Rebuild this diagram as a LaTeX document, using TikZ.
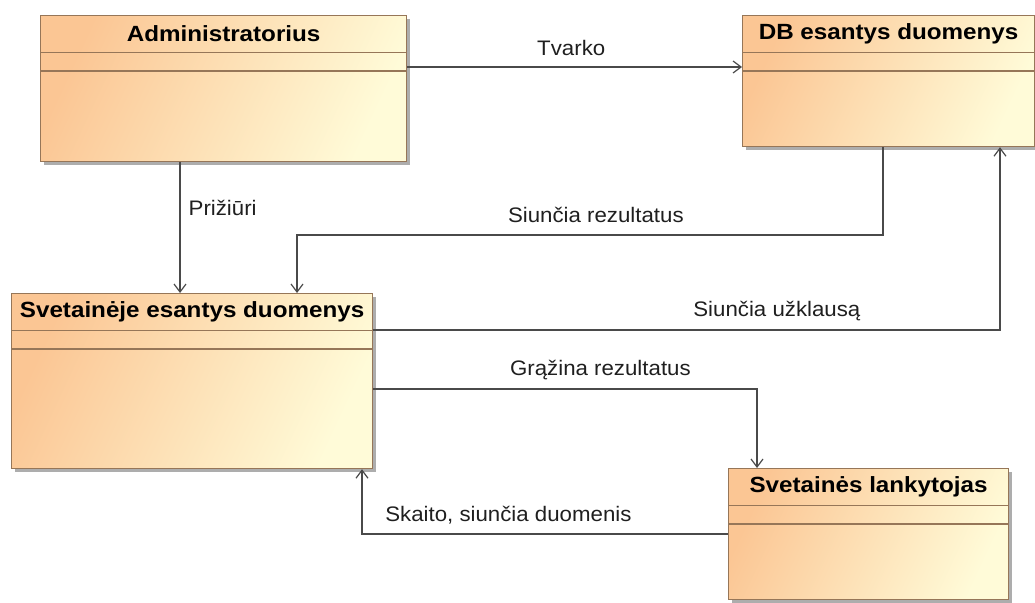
\documentclass[tikz,border=0pt]{standalone}
\usepackage{fontspec}
\setmainfont{Liberation Sans}
\newfontfamily\titlefont{Liberation Sans}[FakeStretch=1.1]
\newfontfamily\labelfont{Liberation Sans}[FakeStretch=1.06]
\usetikzlibrary{arrows.meta,shadows}

\definecolor{umlorange}{RGB}{251,198,148}
\definecolor{umlcream}{RGB}{255,251,216}
\definecolor{boxedge}{RGB}{150,118,88}
\definecolor{connline}{RGB}{74,74,74}

\begin{document}
\begin{tikzpicture}[x=1pt,y=-1pt,
  classbox/.style={draw=boxedge, line width=1.2pt, anchor=north west, inner sep=0pt,
    left color=umlorange, right color=umlcream, shading angle=65,
    drop shadow={shadow xshift=3pt, shadow yshift=-3pt, fill=black!40, opacity=0.8}},
  sepline/.style={draw=boxedge, line width=1.2pt},
  titletext/.style={font=\titlefont\bfseries\fontsize{22}{26}\selectfont, inner sep=0pt},
  lbl/.style={font=\labelfont\fontsize{21}{25}\selectfont, text=black!88, inner sep=0pt},
  conn/.style={draw=connline, line width=1.3pt,
    -{Straight Barb[length=8pt,width=12pt,line width=1.2pt]}}
]
\useasboundingbox (0,0) rectangle (1035,602);

% class boxes
\node[classbox, minimum width=366pt, minimum height=146pt] (adm) at (40,15) {};
\node[classbox, minimum width=292pt, minimum height=131pt] (db) at (742,15) {};
\node[classbox, minimum width=361pt, minimum height=175pt] (sv) at (11,293) {};
\node[classbox, minimum width=280pt, minimum height=131pt] (lk) at (728,468) {};

% titles
\node[titletext] (admt) at ([yshift=-19pt]adm.north) {Administratorius};
\node[titletext] (dbt) at ([yshift=-19pt]db.north) {DB esantys duomenys};
\node[titletext] (svt) at ([yshift=-19pt]sv.north) {Svetainėje esantys duomenys};
\node[titletext] (lkt) at ([yshift=-19pt]lk.north) {Svetainės lankytojas};

% compartment separators
\foreach \b in {adm,db,sv,lk}{
  \draw[sepline] ([yshift=-37.5pt]\b.north west) -- ([yshift=-37.5pt]\b.north east);
  \draw[sepline] ([yshift=-56pt]\b.north west) -- ([yshift=-56pt]\b.north east);
}

% bend points
\coordinate (rb) at (297,235);

% connectors
\draw[conn] ([yshift=-52pt]adm.north east)
  -- node[lbl, pos=0.49, yshift=19pt] {Tvarko} ([yshift=-52pt]db.north west);

\draw[conn] ([xshift=140pt]adm.south west)
  -- node[lbl, pos=0.35, anchor=west, xshift=8pt] {Prižiūri}
  ([xshift=140pt]adm.south west |- sv.north);

\draw[conn] ([xshift=141pt]db.south west) |- (rb)
  node[lbl, pos=0.745, yshift=20pt] {Siunčia rezultatus}
  -- (rb |- sv.north);

\draw[conn] ([yshift=-37pt]sv.north east)
  -| node[lbl, pos=0.322, yshift=19pt] {Siunčia užklausą}
  ([xshift=258pt]db.south west);

\draw[conn] ([yshift=-96pt]sv.north east)
  -| node[lbl, pos=0.296, yshift=19pt] {Grąžina rezultatus}
  ([xshift=29pt]lk.north west);

\draw[conn] ([yshift=-66pt]lk.north west)
  -| node[lbl, pos=0.30, yshift=19pt] {Skaito, siunčia duomenis}
  ([xshift=351pt]sv.south west);
\end{tikzpicture}
\end{document}
